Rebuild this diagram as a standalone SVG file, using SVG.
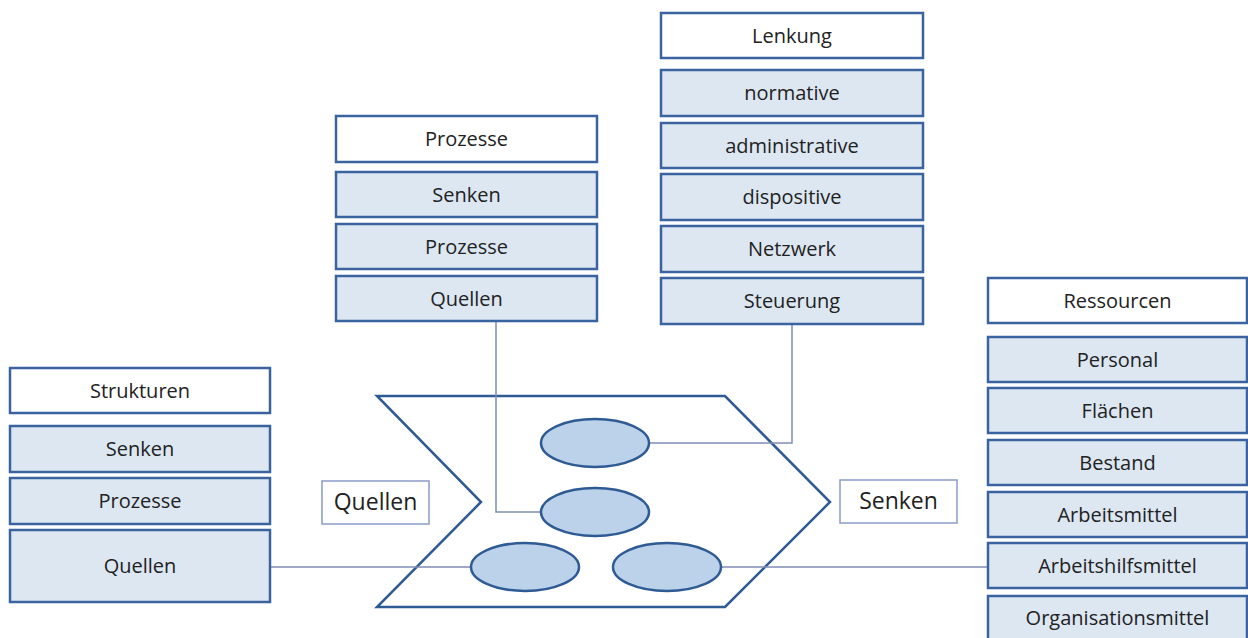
<svg xmlns="http://www.w3.org/2000/svg" width="1248" height="638" viewBox="0 0 1248 638">
  <style>
    .hd { fill: #ffffff; stroke: #3b63a0; stroke-width: 2.5; }
    .it { fill: #dce7f2; stroke: #3b63a0; stroke-width: 2.5; }
    .lb { fill: #ffffff; stroke: #8a9cc8; stroke-width: 1.5; }
    .ov { fill: #bcd2ea; stroke: #2f5b94; stroke-width: 2.5; }
    .frame { fill: #ffffff; stroke: #2f5b94; stroke-width: 2.5; stroke-linejoin: miter; }
    .ln { fill: none; stroke: #7f8db5; stroke-width: 1.5; }
    text { font-family: "Open Sans", "Liberation Sans", sans-serif; font-size: 20px; fill: #222222; text-anchor: middle; dominant-baseline: central; }
    .big { font-size: 23px; }
  </style>
  <rect width="1248" height="638" fill="#ffffff"/>

  <!-- central process frame -->
  <g id="frame">
    <polygon class="frame" points="377,396 725,396 830,502 725,607 377,607 481,502"/>
  </g>

  <!-- connectors -->
  <g id="connectors">
    <polyline class="ln" points="496,321 496,512 541,512"/>
    <polyline class="ln" points="792,324 792,443 649,443"/>
    <line class="ln" x1="271" y1="567" x2="471" y2="567"/>
    <line class="ln" x1="721" y1="567" x2="987" y2="567"/>
  </g>

  <g id="ellipses">
    <ellipse class="ov" cx="595" cy="443" rx="54" ry="24"/>
    <ellipse class="ov" cx="595" cy="512" rx="54" ry="24"/>
    <ellipse class="ov" cx="525" cy="567" rx="54" ry="24"/>
    <ellipse class="ov" cx="667" cy="567" rx="54" ry="24"/>
  </g>

  <g id="label-quellen">
    <rect class="lb" x="322" y="481" width="107" height="43"/>
    <text class="big" x="375.5" y="501">Quellen</text>
  </g>
  <g id="label-senken">
    <rect class="lb" x="840" y="480" width="117" height="43"/>
    <text class="big" x="898.5" y="500">Senken</text>
  </g>

  <!-- Strukturen -->
  <g id="strukturen">
    <rect class="hd" x="10" y="368" width="260" height="45"/>
    <text x="140" y="390">Strukturen</text>
    <rect class="it" x="10" y="426" width="260" height="46"/>
    <text x="140" y="448.5">Senken</text>
    <rect class="it" x="10" y="478" width="260" height="46"/>
    <text x="140" y="500.5">Prozesse</text>
    <rect class="it" x="10" y="530" width="260" height="72"/>
    <text x="140" y="565.5">Quellen</text>
  </g>

  <!-- Prozesse -->
  <g id="prozesse">
    <rect class="hd" x="336" y="116" width="261" height="46"/>
    <text x="466.5" y="138.5">Prozesse</text>
    <rect class="it" x="336" y="172" width="261" height="45"/>
    <text x="466.5" y="194">Senken</text>
    <rect class="it" x="336" y="224" width="261" height="45"/>
    <text x="466.5" y="246">Prozesse</text>
    <rect class="it" x="336" y="276" width="261" height="45"/>
    <text x="466.5" y="298">Quellen</text>
  </g>

  <!-- Lenkung -->
  <g id="lenkung">
    <rect class="hd" x="661" y="13" width="262" height="45"/>
    <text x="792" y="35">Lenkung</text>
    <rect class="it" x="661" y="70" width="262" height="46"/>
    <text x="792" y="92.5">normative</text>
    <rect class="it" x="661" y="123" width="262" height="45"/>
    <text x="792" y="145">administrative</text>
    <rect class="it" x="661" y="174" width="262" height="46"/>
    <text x="792" y="196.5">dispositive</text>
    <rect class="it" x="661" y="226" width="262" height="46"/>
    <text x="792" y="248.5">Netzwerk</text>
    <rect class="it" x="661" y="278" width="262" height="46"/>
    <text x="792" y="300.5">Steuerung</text>
  </g>

  <!-- Ressourcen -->
  <g id="ressourcen">
    <rect class="hd" x="988" y="278" width="259" height="45"/>
    <text x="1117.5" y="300">Ressourcen</text>
    <rect class="it" x="988" y="337" width="259" height="45"/>
    <text x="1117.5" y="359">Personal</text>
    <rect class="it" x="988" y="388" width="259" height="45"/>
    <text x="1117.5" y="410">Flächen</text>
    <rect class="it" x="988" y="440" width="259" height="45"/>
    <text x="1117.5" y="462">Bestand</text>
    <rect class="it" x="988" y="492" width="259" height="45"/>
    <text x="1117.5" y="514">Arbeitsmittel</text>
    <rect class="it" x="988" y="543" width="259" height="45"/>
    <text x="1117.5" y="565">Arbeitshilfsmittel</text>
    <rect class="it" x="988" y="596" width="259" height="50"/>
    <text x="1117.5" y="617.5">Organisationsmittel</text>
  </g>
</svg>
